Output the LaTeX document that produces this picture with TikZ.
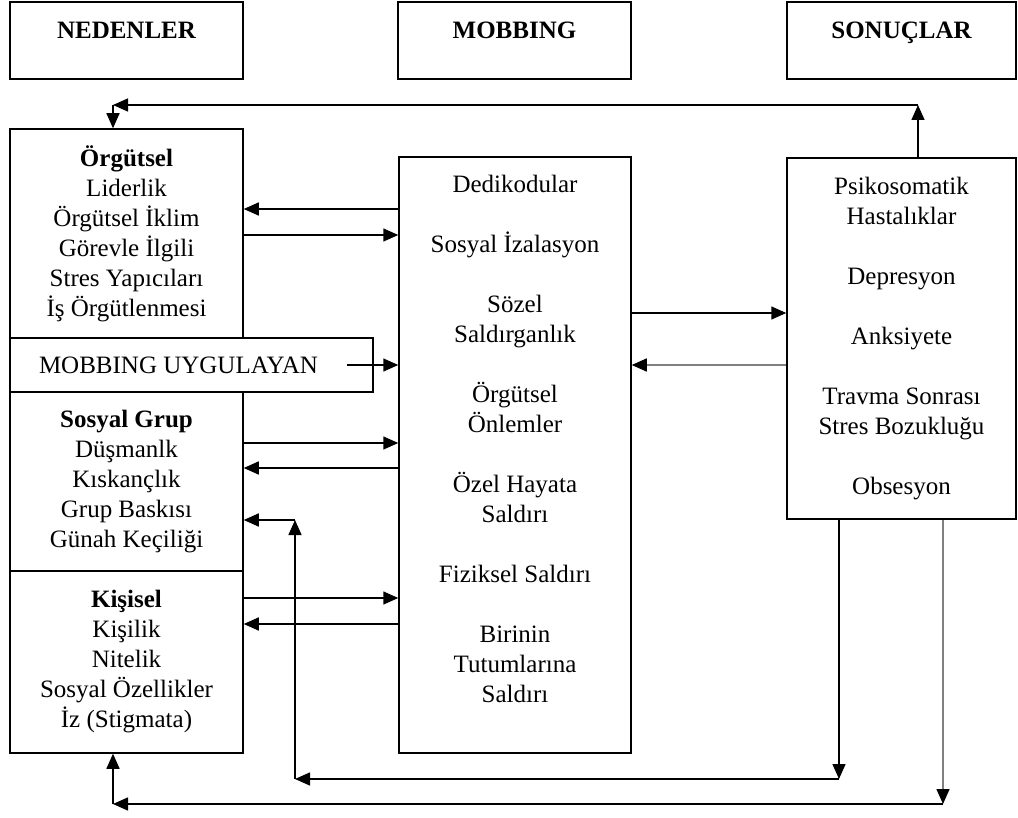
\documentclass[tikz,border=0pt]{standalone}
\usepackage{fontspec}
\setmainfont{Liberation Serif}
\usetikzlibrary{arrows.meta}
\usetikzlibrary{calc}

\begin{document}
\begin{tikzpicture}[x=1pt,y=-1pt,font=\fontsize{25}{30}\selectfont,
	kutu/.style={draw,line width=1.5pt,align=center,inner sep=0pt},
	baslik/.style={kutu,font=\fontsize{25}{30}\selectfont\bfseries,minimum height=77pt,text height=17pt,text depth=21pt},
	ok/.style={line width=1.5pt,-{Triangle[length=15pt,width=13pt]}},
	gri/.style={draw=black!50,-{Triangle[length=15pt,width=13pt,black]}}]
					\useasboundingbox (0,0) rectangle (1018,818);
					\foreach \ad/\x/\w/\txt in {nedenler/126.5/233/NEDENLER, mobbing/514.5/233/MOBBING, sonuclar/901.5/229/SONUÇLAR} {
						\node[baslik,minimum width=\w pt] (\ad) at (\x,40.5) {\txt};
					}
					\node[kutu,minimum width=233pt,minimum height=209pt] (orgutsel) at (126.5,233.5) {\textbf{Örgütsel}\\Liderlik\\Örgütsel İklim\\Görevle İlgili\\Stres Yapıcıları\\İş Örgütlenmesi};
					\node[kutu,minimum width=363pt,minimum height=54pt] (uygulayan) at (191.5,365) {MOBBING UYGULAYAN\hspace{26pt}};
					\node[kutu,minimum width=233pt,minimum height=179pt] (sosyal) at (126.5,481.5) {\textbf{Sosyal Grup}\\Düşmanlk\\Kıskançlık\\Grup Baskısı\\Günah Keçiliği};
					\node[kutu,minimum width=233pt,minimum height=182pt] (kisisel) at (126.5,662) {\textbf{Kişisel}\\Kişilik\\Nitelik\\Sosyal Özellikler\\İz (Stigmata)};
					\node[kutu,minimum width=232pt,minimum height=596pt] (davranis) at (515,455) {Dedikodular\\[30pt]Sosyal İzalasyon\\[30pt]Sözel\\Saldırganlık\\[30pt]Örgütsel\\Önlemler\\[30pt]Özel Hayata\\Saldırı\\[30pt]Fiziksel Saldırı\\[30pt]Birinin\\Tutumlarına\\Saldırı\\[3pt]\mbox{}};
					\node[kutu,minimum width=229pt,minimum height=361pt] (sonuc) at (901.5,338.5) {Psikosomatik\\Hastalıklar\\[30pt]Depresyon\\[30pt]Anksiyete\\[30pt]Travma Sonrası\\Stres Bozukluğu\\[30pt]Obsesyon};
					\foreach \ad/\kutu/\dy in {a1/orgutsel/-24.5, a2/orgutsel/1.5, a3/sosyal/-38.5, a4/sosyal/-13.5, a6/kisisel/-64, a7/kisisel/-38, s1/sonuc/-25.5, s2/sonuc/26.5} {
						\coordinate (\ad) at ($(\kutu.west)+(0,\dy)$);
					}
					\draw[ok] (a1 -| davranis.west) -- (a1 -| orgutsel.east);
					\draw[ok] (a2 -| orgutsel.east) -- (a2 -| davranis.west);
					\draw[ok] ($(uygulayan.east)+(-27,0)$) -- (uygulayan.east -| davranis.west);
					\draw[ok] (a3 -| sosyal.east) -- (a3 -| davranis.west);
					\draw[ok] (a4 -| davranis.west) -- (a4 -| sosyal.east);
					\draw[ok] (a6 -| kisisel.east) -- (a6 -| davranis.west);
					\draw[ok] (a7 -| davranis.west) -- (a7 -| kisisel.east);
					\draw[ok] (s1 -| davranis.east) -- (s1);
					\draw[ok,gri] (s2) -- (s2 -| davranis.east);
					\coordinate (ustsag) at (918,105);
					\coordinate (ustsol) at (113,105);
					\coordinate (alt1sag) at (839,779);
					\coordinate (alt1sol) at (295,779);
					\coordinate (alt1ust) at (295,520);
					\coordinate (alt2sag) at (943,804);
					\coordinate (alt2sol) at (113,804);
					\draw[ok] (ustsag |- sonuc.north) -- (ustsag);
					\draw[ok] (ustsag) -- (ustsol);
					\draw[ok] (ustsol) -- (ustsol |- orgutsel.north);
					\draw[ok] (alt1sag |- sonuc.south) -- (alt1sag);
					\draw[ok] (alt1sag) -- (alt1sol);
					\draw[ok] (alt1sol) -- (alt1ust);
					\draw[ok] (alt1ust) -- (alt1ust -| sosyal.east);
					\draw[ok,gri] (alt2sag |- sonuc.south) -- (alt2sag);
					\draw[ok] (alt2sag) -- (alt2sol);
					\draw[ok] (alt2sol) -- (alt2sol |- kisisel.south);
				\end{tikzpicture}
\end{document}
